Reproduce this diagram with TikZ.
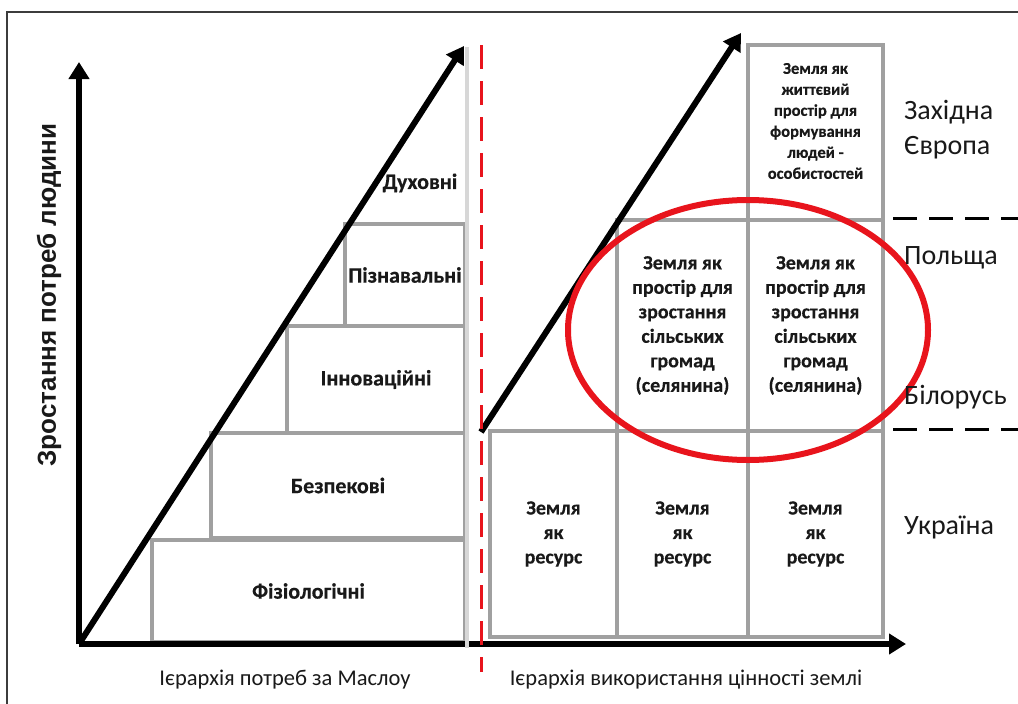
\documentclass[tikz,border=0pt]{standalone}
\usepackage{fontspec}
\setmainfont{Carlito}[BoldFeatures={FakeBold=0.4}]
\newfontfamily\axisfont{Liberation Sans}
\usetikzlibrary{arrows.meta,shapes.geometric}
\definecolor{boxgray}{RGB}{160,160,160}
\definecolor{sepgray}{RGB}{215,215,215}
\definecolor{redline}{RGB}{232,20,28}
\definecolor{framegray}{RGB}{60,60,60}
\definecolor{textdark}{RGB}{25,25,25}
\begin{document}
\begin{tikzpicture}[x=1pt,y=-1pt,
  lbox/.style={draw=boxgray, line width=4.5pt, inner sep=0pt, align=center, text=textdark,
    font=\bfseries\fontsize{22}{26}\selectfont},
  rbox/.style={draw=boxgray, line width=4.5pt, inner sep=0pt, align=center, text=textdark,
    font=\bfseries\fontsize{20}{24.5}\selectfont},
  axisline/.style={line width=6pt, -{Triangle[length=17pt,width=20pt]}},
  country/.style={anchor=west, inner sep=0pt, align=left, text=textdark,
    font=\fontsize{28}{35}\selectfont},
  bottomlab/.style={inner sep=0pt, text=textdark, font=\fontsize{22.5}{26}\selectfont},
  blackdash/.style={line width=3pt, dash pattern=on 24pt off 12pt},
]
\useasboundingbox (0,0) rectangle (1018,704);
% frame
\draw[framegray, line width=1.5pt] (7,704) -- (7,12) -- (1018,12);

% left stack
\node[lbox, minimum width=313pt, minimum height=102pt] (fiz) at (308.5,591) {Фізіологічні};
\node[lbox, minimum width=254pt, minimum height=105pt] (bez) at (338,485.5) {Безпекові};
\node[lbox, minimum width=178pt, minimum height=107pt] (inn) at (376,379.5) {Інноваційні};
\node[lbox, minimum width=120pt, minimum height=102pt] (piz) at (405,275) {Пізнавальні};
\node[inner sep=0pt, text=textdark, font=\bfseries\fontsize{22}{26}\selectfont] (duh) at (420,183) {Духовні};

% right grid
\node[rbox, minimum width=127pt, minimum height=206pt] (r1) at (553.5,534) {Земля\\як\\ресурс};
\node[rbox, minimum width=131pt, minimum height=206pt] (r2) at (682.5,534) {Земля\\як\\ресурс};
\node[rbox, minimum width=135pt, minimum height=206pt] (r3) at (815.5,534) {Земля\\як\\ресурс};
\node[rbox, minimum width=131pt, minimum height=211pt] (m1) at (682.5,325.5) {Земля як\\простір для\\зростання\\сільських\\громад\\(селянина)};
\node[rbox, minimum width=135pt, minimum height=211pt] (m2) at (815.5,325.5) {Земля як\\простір для\\зростання\\сільських\\громад\\(селянина)};
\node[rbox, minimum width=135pt, minimum height=175pt] (t1) at (815.5,132.5) {};
\node[inner sep=0pt, align=center, text=textdark, font=\bfseries\fontsize{16.5}{21}\selectfont] (t1text) at (815.5,121) {Земля як\\життєвий\\простір для\\формування\\людей -\\особистостей};

% axes
\coordinate (O) at (79,644);
\coordinate (ytip) at (79,62);
\coordinate (dl) at (464,46);
\coordinate (xtip) at (906,644);
\coordinate (rs) at (481,432);
\coordinate (dr) at (741,33);
\draw[axisline] (O) -- (ytip);
\draw[axisline] (O) -- (dl);
\draw[axisline] (O) -- (xtip);
\draw[axisline] (rs) -- (dr);

% light separator
\coordinate (sepT) at (467,47);
\coordinate (sepB) at (467,648);
\draw[sepgray, line width=4pt] (sepT) -- (sepB);

% ellipse
\node[draw=redline, line width=6pt, ellipse, minimum width=360pt, minimum height=260pt, inner sep=0pt] (oval) at (748,330) {};

% red dashed divider
\coordinate (redT) at (481,45);
\coordinate (redB) at (481,672);
\draw[redline, line width=3pt, dash pattern=on 24pt off 12pt] (redT) -- (redB);

% black dashed country separators
\coordinate (d1a) at (893,218);
\coordinate (d1b) at (1018,218);
\coordinate (d2a) at (893,429);
\coordinate (d2b) at (1018,429);
\draw[blackdash] (d1a) -- (d1b);
\draw[blackdash] (d2a) -- (d2b);

% country labels
\node[country] (we) at (904,130) {Західна\\Європа};
\node[country] (pl) at (904,258) {Польща};
\node[country] (by) at (904,397) {Білорусь};
\node[country] (ua) at (904,527) {Україна};

% axis labels
\node[rotate=90, inner sep=0pt, text=textdark, font=\axisfont\bfseries\fontsize{26}{30}\selectfont] (ylab) at (49,295) {Зростання потреб людини};
\node[bottomlab] (xlab1) at (285,680) {Ієрархія потреб за Маслоу};
\node[bottomlab] (xlab2) at (686,680) {Ієрархія використання цінності землі};
\end{tikzpicture}
\end{document}
